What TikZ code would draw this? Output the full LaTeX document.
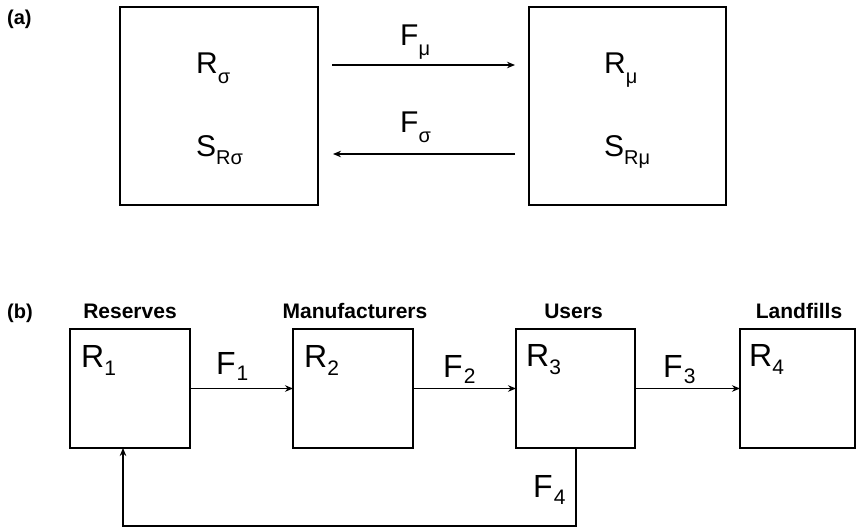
\documentclass[tikz,border=0pt]{standalone}
\usepackage{fontspec}
\setmainfont{Liberation Sans}
\usetikzlibrary{arrows.meta}
\newcommand\mysub[3]{\raisebox{-#2}{\fontsize{#1}{#1}\selectfont #3}}
\begin{document}
\begin{tikzpicture}[x=1pt,y=-1pt,
  box/.style={draw,line width=2.2pt,inner sep=0pt,outer sep=0pt},
  flow/.style={line width=1.7pt,-{Stealth[length=8pt,width=6.5pt]}},
  txt/.style={inner sep=0pt,anchor=base west},
  biga/.style={txt,font=\fontsize{30}{30}\selectfont},
  bigb/.style={txt,font=\fontsize{32}{32}\selectfont},
  hdr/.style={inner sep=0pt,anchor=base,font=\bfseries\fontsize{21}{21}\selectfont},
  tag/.style={inner sep=0pt,anchor=base west,font=\bfseries\fontsize{20}{20}\selectfont}]
\useasboundingbox (0,0) rectangle (857,528);
% ---------- (a) ----------
\node[tag] (ta) at (7,24) {(a)};
\node[box,minimum width=198pt,minimum height=198pt] (bl) at (219,106) {};
\node[box,minimum width=197pt,minimum height=198pt] (br) at (627.5,106) {};
\node[biga] (rs) at (196,73) {R\mysub{20}{10pt}{σ}};
\node[biga] (srs) at (196,156) {S\mysub{20}{8pt}{Rσ}};
\node[biga] (rm) at (604,73) {R\mysub{20}{10pt}{μ}};
\node[biga] (srm) at (604,156) {S\mysub{20}{8pt}{Rμ}};
\draw[flow] ([shift={(14,58)}]bl.north east) -- ([shift={(-14,58)}]br.north west);
\draw[flow] ([shift={(-14,147)}]br.north west) -- ([shift={(15,147)}]bl.north east);
\node[biga] (fm) at (400,45) {F\mysub{20}{10pt}{μ}};
\node[biga] (fs) at (400,132) {F\mysub{20}{10pt}{σ}};
% ---------- (b) ----------
\node[tag] (tb) at (7,318) {(b)};
\node[box,minimum width=120pt,minimum height=119pt] (r1) at (130,388.5) {};
\node[box,minimum width=120pt,minimum height=119pt] (r2) at (353,388.5) {};
\node[box,minimum width=119pt,minimum height=119pt] (r3) at (575.5,388.5) {};
\node[box,minimum width=115pt,minimum height=119pt] (r4) at (797.5,388.5) {};
\node[hdr] (h1) at ([yshift=11pt]r1.north) {Reserves};
\node[hdr] (h2) at ([shift={(2,-11)}]r2.north) {Manufacturers};
\node[hdr] (h3) at ([shift={(-2,-11)}]r3.north) {Users};
\node[hdr] (h4) at ([shift={(1.5,-11)}]r4.north) {Landfills};
\node[bigb] (l1) at (81,367) {R\mysub{21}{8pt}{1}};
\node[bigb] (l2) at (304,367) {R\mysub{21}{8pt}{2}};
\node[bigb] (l3) at (526,366) {R\mysub{21}{8pt}{3}};
\node[bigb] (l4) at (749,366) {R\mysub{21}{8pt}{4}};
\draw[flow] (r1.east) -- (r2.west);
\draw[flow] (r2.east) -- (r3.west);
\draw[flow] (r3.east) -- (r4.west);
\draw[flow,line width=2pt] (r3.south) -- ++(0,78) -| ([xshift=-7pt]r1.south);
\node[bigb] (f1) at (216,374) {F\mysub{21}{6pt}{\kern1pt 1}};
\node[bigb] (f2) at (443,377) {F\mysub{21}{6pt}{\kern1pt 2}};
\node[bigb] (f3) at (663,377) {F\mysub{21}{6pt}{\kern1pt 3}};
\node[bigb] (f4) at (533,497) {F\mysub{21}{7pt}{\kern1pt 4}};
\end{tikzpicture}
\end{document}
